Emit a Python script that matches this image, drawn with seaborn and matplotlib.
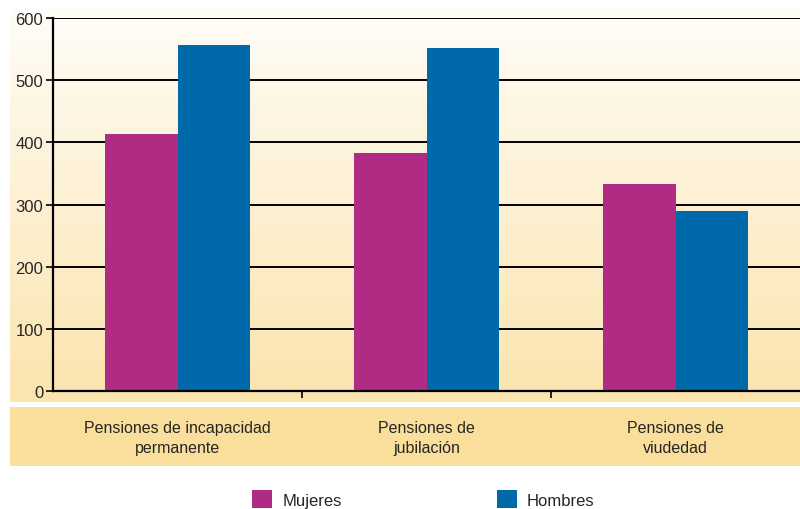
import matplotlib
matplotlib.use("Agg")
import matplotlib.pyplot as plt
import seaborn as sns
import numpy as np
import pandas as pd
from matplotlib.colors import LinearSegmentedColormap
from matplotlib.patches import Patch

categories = ["Pensiones de incapacidad\npermanente",
              "Pensiones de\njubilación",
              "Pensiones de\nviudedad"]
mujeres = [413, 383, 333]
hombres = [557, 552, 290]
series = ["Mujeres", "Hombres"]
colors = ["#b02c84", "#0069aa"]
yticks = [0, 100, 200, 300, 400, 500, 600]

df = pd.DataFrame({
    "categoria": categories * 2,
    "sexo": ["Mujeres"] * 3 + ["Hombres"] * 3,
    "valor": mujeres + hombres,
})

sns.set_style("white")
plt.rcParams["font.family"] = ["Liberation Sans", "DejaVu Sans"]

W, H = 800, 510
fig = plt.figure(figsize=(8, 5.1), dpi=100)

# gradient background behind the plot area
bg = fig.add_axes([10 / W, 1 - 403 / H, 790 / W, 393 / H], zorder=0)
cmap = LinearSegmentedColormap.from_list("bg", ["#fffdf8", "#fdf0d2", "#fbe4ad"])
bg.imshow(np.linspace(0, 1, 256).reshape(-1, 1), aspect="auto", cmap=cmap,
          extent=[0, 1, 0, 1], origin="upper")
bg.axis("off")

# label band
band = fig.add_axes([10 / W, 1 - 467 / H, 790 / W, 59 / H], zorder=0)
band.set_facecolor("#f9df9b")
band.set_xticks([])
band.set_yticks([])
for s in band.spines.values():
    s.set_visible(False)

ax = fig.add_axes([53 / W, 1 - 392 / H, 747 / W, 373 / H], zorder=2)
ax.patch.set_alpha(0)
sns.barplot(data=df, x="categoria", y="valor", hue="sexo", hue_order=series,
            palette=colors, width=0.584, gap=0, linewidth=0, saturation=1,
            legend=False, ax=ax)

ax.set_xlim(-0.5, 2.5)
ax.set_ylim(0, 600)
ax.set_yticks(yticks)
ax.set_yticklabels([str(t) for t in yticks], fontsize=12)
ax.grid(axis="y", color="black", linewidth=1.4, zorder=0)
ax.set_axisbelow(True)
ax.set_xlabel("")
ax.set_ylabel("")

for s in ["top", "right"]:
    ax.spines[s].set_visible(False)
for s in ["left", "bottom"]:
    ax.spines[s].set_color("black")
    ax.spines[s].set_linewidth(1.6)

ax.tick_params(axis="y", left=True, length=5, width=1.2, color="black", pad=2)
ax.set_xticks([0.5, 1.5], minor=True)
ax.tick_params(axis="x", which="minor", bottom=True, length=5, width=1.2, color="black")
ax.tick_params(axis="x", which="major", length=0, pad=21, labelsize=11.5)
for lbl in ax.get_xticklabels():
    lbl.set_linespacing(1.4)

handles = [Patch(facecolor=c, edgecolor="none") for c in colors]
fig.legend(handles, series, loc="lower center", bbox_to_anchor=(0.529, -0.028),
           ncol=2, frameon=False, fontsize=12, handlelength=1.2, handleheight=1.3,
           columnspacing=9.3, handletextpad=0.6)

fig.savefig("out.png", dpi=100)
